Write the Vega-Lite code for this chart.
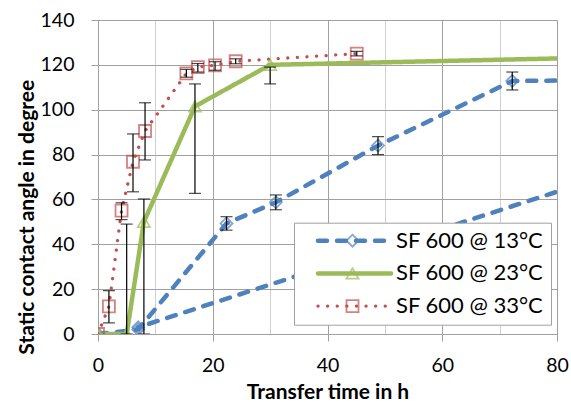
{
  "$schema": "https://vega.github.io/schema/vega-lite/v6.json",
  "width": 459,
  "height": 314,
  "autosize": {"type": "none"},
  "padding": {"left": 98, "top": 20, "right": 14, "bottom": 69},
  "background": "white",
  "config": {"view": {"stroke": null}, "font": "Lato"},
  "data": {
    "values": [
      {"s": "SF 600 @ 13°C", "o": 1, "x": 0, "y": 0},
      {"s": "SF 600 @ 13°C", "o": 2, "x": 7, "y": 2},
      {"s": "SF 600 @ 13°C", "o": 3, "x": 22.4, "y": 49.3, "lo": 46.3, "hi": 52.3},
      {"s": "SF 600 @ 13°C", "o": 4, "x": 31, "y": 58.7, "lo": 55.4, "hi": 62},
      {"s": "SF 600 @ 13°C", "o": 5, "x": 48.8, "y": 84, "lo": 80, "hi": 88},
      {"s": "SF 600 @ 13°C", "o": 6, "x": 72.2, "y": 112.8, "lo": 108.8, "hi": 116.8},
      {"s": "SF 600 @ 13°C", "o": 7, "x": 100, "y": 113.5},
      {"s": "SF 600 @ 13°C", "o": 8, "x": 100, "y": 80},
      {"s": "SF 600 @ 13°C", "o": 9, "x": 7, "y": 3},
      {"s": "SF 600 @ 23°C", "o": 1, "x": 0, "y": 0},
      {"s": "SF 600 @ 23°C", "o": 2, "x": 5, "y": 0, "lo": 0, "hi": 49},
      {"s": "SF 600 @ 23°C", "o": 3, "x": 8, "y": 50, "lo": 0, "hi": 60.2},
      {"s": "SF 600 @ 23°C", "o": 4, "x": 16.9, "y": 101.5, "lo": 62.7, "hi": 111.5},
      {"s": "SF 600 @ 23°C", "o": 5, "x": 30, "y": 120, "lo": 111.5, "hi": 119},
      {"s": "SF 600 @ 23°C", "o": 6, "x": 100, "y": 124},
      {"s": "SF 600 @ 33°C", "o": 1, "x": 0, "y": 0},
      {"s": "SF 600 @ 33°C", "o": 2, "x": 1.9, "y": 12.3, "lo": 5, "hi": 19.3},
      {"s": "SF 600 @ 33°C", "o": 3, "x": 4.1, "y": 55, "lo": 51, "hi": 58.5},
      {"s": "SF 600 @ 33°C", "o": 4, "x": 6.1, "y": 76.8, "lo": 63.4, "hi": 89.2},
      {"s": "SF 600 @ 33°C", "o": 5, "x": 8.2, "y": 90.5, "lo": 77.6, "hi": 103.1},
      {"s": "SF 600 @ 33°C", "o": 6, "x": 15.4, "y": 116.2, "lo": 114.5, "hi": 118},
      {"s": "SF 600 @ 33°C", "o": 7, "x": 17.4, "y": 119, "lo": 116.8, "hi": 120.6},
      {"s": "SF 600 @ 33°C", "o": 8, "x": 20.4, "y": 119.8, "lo": 117.6, "hi": 121.4},
      {"s": "SF 600 @ 33°C", "o": 9, "x": 24, "y": 121.6, "lo": 120.5, "hi": 122.7},
      {"s": "SF 600 @ 33°C", "o": 10, "x": 45.1, "y": 125, "lo": 124, "hi": 126}
    ]
  },
  "layer": [
    {
      "mark": {"type": "line", "clip": true, "strokeCap": "round", "strokeJoin": "round"},
      "encoding": {
        "x": {
          "field": "x", "type": "quantitative",
          "scale": {"domain": [0, 80], "nice": false, "zero": false},
          "axis": {
            "values": [0, 10, 20, 30, 40, 50, 60, 70, 80],
            "title": "Transfer time in h",
            "grid": true,
            "gridColor": {"condition": {"test": "datum.value % 20 === 0", "value": "#a0a0a0"}, "value": "#d0d0d0"},
            "tickOpacity": {"condition": {"test": "datum.value % 20 === 0", "value": 1}, "value": 0},
            "labelExpr": "datum.value % 20 === 0 ? datum.label : ''",
            "labelFlush": false,
            "labelOverlap": false,
            "domainColor": "#a0a0a0",
            "tickColor": "#a0a0a0",
            "tickSize": 7,
            "labelPadding": 30.7,
            "labelBaseline": "alphabetic",
            "labelFontSize": 19.5,
            "labelColor": "#000",
            "titleFontSize": 21,
            "titleFontWeight": "bold",
            "titleColor": "#000",
            "titleBaseline": "alphabetic",
            "titleY": 64
          }
        },
        "y": {
          "field": "y", "type": "quantitative",
          "scale": {"domain": [0, 140], "nice": false},
          "axis": {
            "values": [0, 20, 40, 60, 80, 100, 120, 140],
            "title": "Static contact angle in degree",
            "grid": true,
            "gridColor": "#a0a0a0",
            "domainColor": "#a0a0a0",
            "tickColor": "#a0a0a0",
            "tickSize": 7,
            "labelPadding": 17,
            "labelFlush": false,
            "labelFontSize": 19.5,
            "labelColor": "#000",
            "titleFontSize": 21,
            "titleFontWeight": "bold",
            "titleColor": "#000",
            "titleBaseline": "alphabetic",
            "titleX": -64.7,
            "titleY": 196.7
          }
        },
        "order": {"field": "o", "type": "quantitative"},
        "color": {
          "field": "s", "type": "nominal",
          "scale": {"domain": ["SF 600 @ 13°C", "SF 600 @ 23°C", "SF 600 @ 33°C"], "range": ["#4F81BD", "#9BBB59", "#C0504D"]},
          "legend": {
            "title": null, "orient": "none", "legendX": 196, "legendY": 202.7, "padding": 7,
            "symbolType": "M1.0,0H13.17", "symbolSize": 144,
            "labelOffset": 73, "labelFontSize": 22, "labelColor": "#000", "labelLimit": 0,
            "rowPadding": 10.7, "fillColor": "white", "strokeColor": "#a0a0a0",
            "labelExpr": "datum.label + '\u00a0\u00a0\u00a0\u00a0\u00a0'",
            "encode": {"symbols": {"update": {"strokeCap": {"value": "round"}, "strokeWidth": {"signal": "datum.value === 'SF 600 @ 33°C' ? 3.3 : 4.5"}}}}
          }
        },
        "strokeDash": {
          "field": "s", "type": "nominal",
          "scale": {"domain": ["SF 600 @ 13°C", "SF 600 @ 23°C", "SF 600 @ 33°C"], "range": [[9, 10], [1, 0], [0.1, 9.5]]},
          "legend": {
            "title": null, "orient": "none", "legendX": 196, "legendY": 202.7, "padding": 7,
            "symbolType": "M1.0,0H13.17", "symbolSize": 144,
            "labelOffset": 73, "labelFontSize": 22, "labelColor": "#000", "labelLimit": 0,
            "rowPadding": 10.7, "fillColor": "white", "strokeColor": "#a0a0a0",
            "labelExpr": "datum.label + '\u00a0\u00a0\u00a0\u00a0\u00a0'"
          }
        },
        "strokeWidth": {"condition": {"test": "datum.s === 'SF 600 @ 33°C'", "value": 3.3}, "value": 4.5}
      }
    },
    {
      "transform": [{"filter": "datum.x <= 80"}],
      "mark": {"type": "point", "filled": false, "size": 144, "strokeWidth": 1.8, "clip": true},
      "encoding": {
        "x": {"field": "x", "type": "quantitative"},
        "y": {"field": "y", "type": "quantitative"},
        "color": {
          "field": "s", "type": "nominal",
          "scale": {"domain": ["SF 600 @ 13°C", "SF 600 @ 23°C", "SF 600 @ 33°C"], "range": ["#4F81BD", "#9BBB59", "#C0504D"]},
          "legend": {
            "title": null, "orient": "none", "legendX": 236.5, "legendY": 202.7, "padding": 7,
            "symbolSize": 144, "symbolStrokeWidth": 1.8,
            "labelOffset": 73, "labelFontSize": 22, "labelLimit": 0,
            "rowPadding": 10.7,
            "labelExpr": "''"
          }
        },
        "shape": {
          "field": "s", "type": "nominal",
          "scale": {"domain": ["SF 600 @ 13°C", "SF 600 @ 23°C", "SF 600 @ 33°C"], "range": ["diamond", "triangle-up", "square"]},
          "legend": {
            "title": null, "orient": "none", "legendX": 236.5, "legendY": 202.7, "padding": 7,
            "symbolSize": 144, "symbolStrokeWidth": 1.8,
            "labelOffset": 73, "labelFontSize": 22, "labelLimit": 0,
            "rowPadding": 10.7,
            "labelExpr": "''"
          }
        }
      }
    },
    {
      "transform": [{"filter": "isValid(datum.lo)"}],
      "mark": {"type": "rule", "color": "black", "strokeWidth": 1.2, "clip": true},
      "encoding": {
        "x": {"field": "x", "type": "quantitative"},
        "y": {"field": "lo", "type": "quantitative"},
        "y2": {"field": "hi"}
      }
    },
    {
      "transform": [{"filter": "isValid(datum.hi)"}],
      "mark": {"type": "tick", "orient": "horizontal", "color": "black", "size": 12, "thickness": 1.2, "clip": true},
      "encoding": {
        "x": {"field": "x", "type": "quantitative"},
        "y": {"field": "hi", "type": "quantitative"}
      }
    },
    {
      "transform": [{"filter": "isValid(datum.lo)"}],
      "mark": {"type": "tick", "orient": "horizontal", "color": "black", "size": 12, "thickness": 1.2, "clip": true},
      "encoding": {
        "x": {"field": "x", "type": "quantitative"},
        "y": {"field": "lo", "type": "quantitative"}
      }
    }
  ],
  "resolve": {
    "scale": {"color": "independent", "shape": "independent", "strokeDash": "independent"},
    "legend": {"color": "independent", "shape": "independent", "strokeDash": "independent"}
  }
}
